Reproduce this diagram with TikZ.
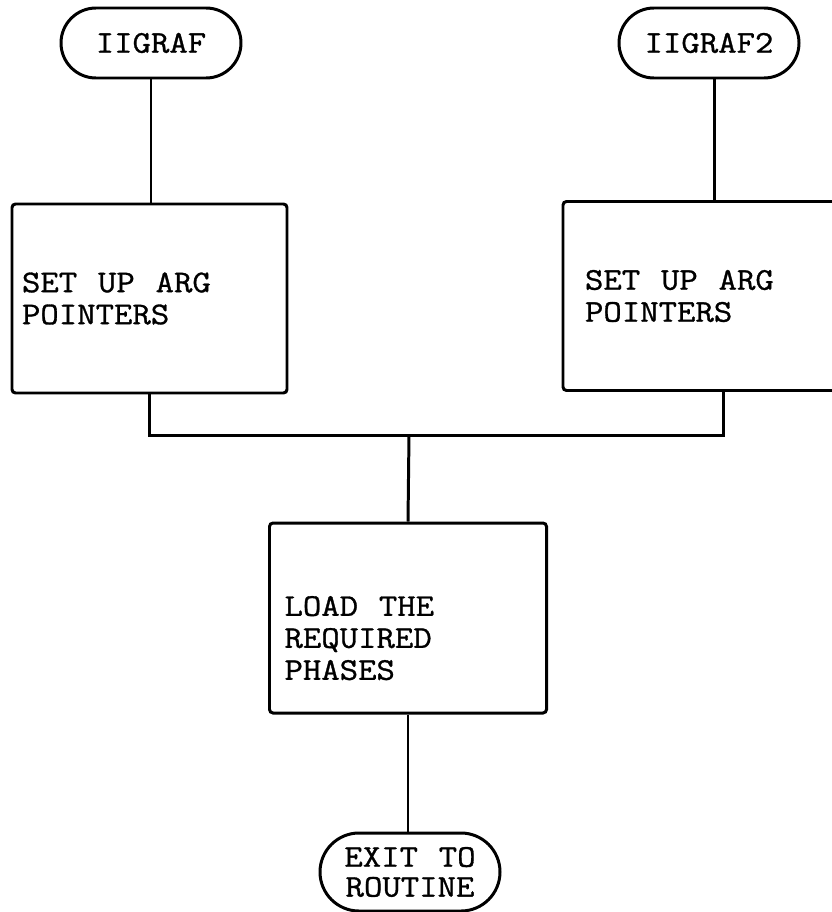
\documentclass[tikz,border=0pt]{standalone}
\usepackage{fontspec}
\newfontfamily\chartfont[FakeStretch=1.13,FakeBold=1,WordSpace=1.13]{Latin Modern Mono}
\begin{document}
\begin{tikzpicture}[line width=1.7pt,
    terminal/.style={draw, rounded corners=0.7cm, minimum width=3.6cm, minimum height=1.4cm, inner sep=0pt, align=center},
    process/.style={draw, rounded corners=2pt, minimum height=3.78cm, align=left,
      execute at begin node={\spaceskip=0pt\xspaceskip=0pt}},
    font=\chartfont\fontsize{18}{18.2}\selectfont]
      \useasboundingbox (0,0) rectangle (16.62,-18.24);
      \node[terminal] (iigraf) at (3.02,-0.86) {IIGRAF};
      \node[terminal] (iigraftwo) at (14.18,-0.86) {IIGRAF2};
      \node[process, inner xsep=0.2cm, text width=5.1cm] (setupa) at (2.99,-5.97) {SET UP ARG\\POINTERS};
      \node[process, inner xsep=0.44cm, text width=4.62cm] (setupb) at (14.01,-5.92) {SET UP ARG\\POINTERS};
      \node[process, inner xsep=0.3cm, text width=4.94cm, minimum height=3.8cm] (load) at (8.16,-12.36) {\rule{0pt}{1.2cm}LOAD THE\\REQUIRED\\PHASES};
      \node[terminal, minimum height=1.56cm, rounded corners=0.78cm, font=\chartfont\fontsize{18}{17}\selectfont] (exit) at (8.2,-17.44) {EXIT TO\\ROUTINE};
      \coordinate (join) at (8.18,-8.7);
      \draw (iigraf.south) -- (iigraf.south |- setupa.north);
      \draw ([xshift=0.1cm]iigraftwo.south) -- ([xshift=0.1cm]iigraftwo.south |- setupb.north);
      \draw (setupa.south) |- (join) -| ([xshift=0.45cm]setupb.south);
      \draw (join) -- (load.north);
      \draw (load.south) -- (load.south |- exit.north);
    \end{tikzpicture}
\end{document}
